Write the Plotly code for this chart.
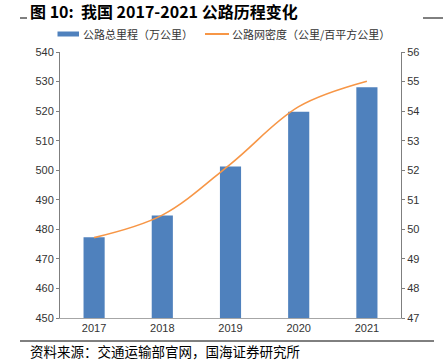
import plotly.graph_objects as go

years = ["2017", "2018", "2019", "2020", "2021"]
mileage = [477.35, 484.65, 501.25, 519.81, 528.07]
density = [49.72, 50.48, 52.21, 54.15, 55.01]
left_ticks = [450, 460, 470, 480, 490, 500, 510, 520, 530, 540]
right_ticks = [47, 48, 49, 50, 51, 52, 53, 54, 55, 56]
bar_name = "公路总里程（万公里）"
line_name = "公路网密度（公里/百平方公里）"

BAR_COLOR = "#4F81BD"
LINE_COLOR = "#F79646"

fig = go.Figure()
fig.add_trace(go.Bar(x=years, y=mileage, name=bar_name,
                     marker=dict(color=BAR_COLOR, line=dict(width=0)), width=0.31))
fig.add_trace(go.Scatter(x=years, y=density, name=line_name,
                         mode="lines", line=dict(color=LINE_COLOR, width=1.6, shape="spline", smoothing=1.0),
                         yaxis="y2"))

tickfont = dict(family="Liberation Sans, Arial", size=11, color="#333333")
fig.update_layout(
    width=443, height=360,
    margin=dict(l=60, r=42, t=52, b=42),
    paper_bgcolor="white", plot_bgcolor="white",
    showlegend=False,
    xaxis=dict(showline=True, linecolor="#A6A6A6", linewidth=1.2, ticks="outside", ticklen=0,
               tickfont=tickfont, showgrid=False),
    yaxis=dict(range=[450, 540], tickvals=left_ticks, showline=True, linecolor="#7F7F7F",
               ticks="outside", ticklen=3, tickcolor="#7F7F7F", showgrid=False, zeroline=False,
               tickfont=tickfont),
    yaxis2=dict(range=[47, 56], tickvals=right_ticks, overlaying="y", side="right", showline=True,
                linecolor="#7F7F7F", ticks="outside", ticklen=3, tickcolor="#7F7F7F",
                showgrid=False, zeroline=False, tickfont=tickfont),
    bargap=0.69,
)

def px_x(x):
    return (x - 60) / 341
def px_y(y):
    return (318 - y) / 266

# title
fig.add_annotation(text="<b>图 10:  我国 2017-2021 公路历程变化</b>", xref="paper", yref="paper",
                   x=px_x(28), y=px_y(11), xanchor="left", yanchor="middle",
                   showarrow=False, font=dict(family="Noto Sans CJK SC", size=16, color="#000000"))
# source
fig.add_annotation(text="资料来源：交通运输部官网，国海证券研究所", xref="paper", yref="paper",
                   x=px_x(28), y=px_y(351), xanchor="left", yanchor="middle",
                   showarrow=False, font=dict(family="Noto Sans CJK SC", size=13.5, color="#000000"))

# legend (manual)
LEG_Y = 34
fig.add_shape(type="rect", xref="paper", yref="paper", x0=px_x(57.5), x1=px_x(79), y0=px_y(LEG_Y - 2.5),
              y1=px_y(LEG_Y + 2.5), line=dict(width=0), fillcolor=BAR_COLOR)
fig.add_annotation(text=bar_name, xref="paper", yref="paper", x=px_x(81), y=px_y(LEG_Y),
                   xanchor="left", yanchor="middle", showarrow=False,
                   font=dict(family="Noto Sans CJK SC", size=11, color="#333333"))
fig.add_shape(type="line", xref="paper", yref="paper", x0=px_x(205), x1=px_x(229), y0=px_y(LEG_Y),
              y1=px_y(LEG_Y), line=dict(color=LINE_COLOR, width=2))
fig.add_annotation(text=line_name, xref="paper", yref="paper", x=px_x(230), y=px_y(LEG_Y),
                   xanchor="left", yanchor="middle", showarrow=False,
                   font=dict(family="Noto Sans CJK SC", size=11, color="#333333"))

# rules
fig.add_shape(type="line", xref="paper", yref="paper", x0=px_x(20), x1=px_x(27), y0=px_y(18), y1=px_y(18),
              line=dict(color="#000000", width=1))
fig.add_shape(type="line", xref="paper", yref="paper", x0=px_x(423), x1=px_x(443), y0=px_y(18), y1=px_y(18),
              line=dict(color="#000000", width=1))
fig.add_shape(type="line", xref="paper", yref="paper", x0=px_x(20), x1=px_x(434), y0=px_y(341), y1=px_y(341),
              line=dict(color="#000000", width=1))

fig.write_html("out.html", config={"displayModeBar": False},
               post_script="document.body.style.margin='0';")
